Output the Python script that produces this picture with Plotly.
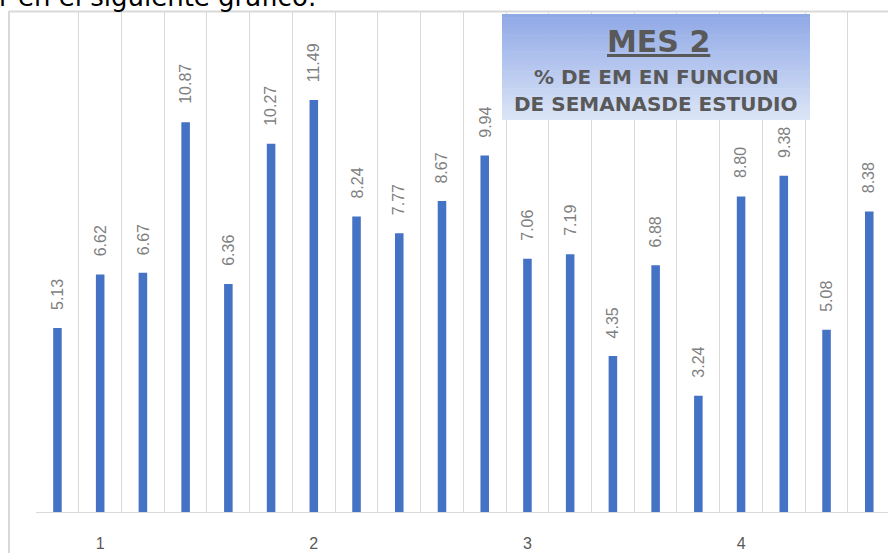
import plotly.graph_objects as go

# ---- data ----
week_index = list(range(20))
values = [5.13, 6.62, 6.67, 10.87, 6.36, 10.27, 11.49, 8.24, 7.77, 8.67,
          9.94, 7.06, 7.19, 4.35, 6.88, 3.24, 8.80, 9.38, 5.08, 8.38]
tick_positions = [1, 6, 11, 16]
tick_labels = ["1", "2", "3", "4"]
value_labels = [f"{v:.2f}" for v in values]

W, H = 888, 553
ML, MR, MT, MB = 36, 0, 12, 41
PW = W - ML - MR
PH = H - MT - MB

def px(x):
    return (x - ML) / PW

def py(y):
    return (H - MB - y) / PH

fig = go.Figure()
fig.add_trace(go.Bar(
    x=week_index, y=values, width=0.2,
    marker=dict(color="#4472c4", line=dict(width=0)),
    hoverinfo="skip",
))

annotations = []
for xi, v, t in zip(week_index, values, value_labels):
    annotations.append(dict(
        x=xi, y=v, xref="x", yref="y", text=t, showarrow=False,
        textangle=-90, yanchor="bottom", xanchor="center", yshift=16,
        font=dict(family="Liberation Sans", size=16, color="#7f7f7f"),
    ))

# cut-off document text at the top
annotations.append(dict(
    x=px(-3), y=py(14), xref="paper", yref="paper",
    text="r en el siguiente gráfico:", showarrow=False,
    xanchor="left", yanchor="bottom",
    font=dict(family="DejaVu Sans", size=26, color="#000000"),
))

# title box gradient
bx0, bx1, by0, by1 = 502, 810, 14, 120
top_c = (143, 168, 230)
bot_c = (220, 229, 247)
shapes = []
N = 50
for k in range(N):
    f = k / (N - 1)
    c = tuple(round(top_c[j] + (bot_c[j] - top_c[j]) * f) for j in range(3))
    ya = by0 + (by1 - by0) * k / N
    yb = by0 + (by1 - by0) * (k + 1) / N + 0.6
    shapes.append(dict(
        type="rect", xref="paper", yref="paper",
        x0=px(bx0), x1=px(bx1), y0=py(min(yb, by1)), y1=py(ya),
        fillcolor="rgb(%d,%d,%d)" % c, line=dict(width=0), layer="above",
    ))

cx = px((bx0 + bx1) / 2)
annotations += [
    dict(x=px(658), y=py(41), xref="paper", yref="paper", text="<b>MES 2</b>",
         showarrow=False, xanchor="center", yanchor="middle",
         font=dict(family="DejaVu Sans", size=30, color="#595959", lineposition="under")),
    dict(x=cx, y=py(77), xref="paper", yref="paper", text="<b>% DE EM EN FUNCION</b>",
         showarrow=False, xanchor="center", yanchor="middle",
         font=dict(family="DejaVu Sans", size=20, color="#595959")),
    dict(x=cx, y=py(103.5), xref="paper", yref="paper", text="<b>DE SEMANASDE ESTUDIO</b>",
         showarrow=False, xanchor="center", yanchor="middle",
         font=dict(family="DejaVu Sans", size=20, color="#595959")),
]

# chart border (left and top)
shapes += [
    dict(type="line", xref="paper", yref="paper", x0=px(9), x1=px(9),
         y0=py(11), y1=py(H + 5), line=dict(color="#d9d9d9", width=2), layer="below"),
    dict(type="line", xref="paper", yref="paper", x0=px(9), x1=px(W + 5),
         y0=py(11.5), y1=py(11.5), line=dict(color="#d9d9d9", width=2), layer="below"),
]

fig.update_layout(
    width=W, height=H,
    margin=dict(l=ML, r=MR, t=MT, b=MB, pad=0),
    paper_bgcolor="white", plot_bgcolor="white",
    showlegend=False,
    annotations=annotations, shapes=shapes,
    xaxis=dict(
        range=[-0.502, (W - 57) / 42.75 + 0.0], fixedrange=True,
        tickmode="array", tickvals=tick_positions, ticktext=tick_labels,
        showgrid=False, zeroline=False,
        showline=True, linecolor="#d9d9d9", linewidth=1,
        ticks="", ticklabelstandoff=17,
        tickfont=dict(family="Liberation Sans", size=16, color="#595959"),
        minor=dict(tickmode="linear", tick0=-0.5, dtick=1, showgrid=True,
                   gridcolor="#d9d9d9", gridwidth=1, ticks=""),
    ),
    yaxis=dict(range=[0, 500 / 35.86], showgrid=False, zeroline=False,
               showticklabels=False, ticks="", showline=False, fixedrange=True),
)

fig.write_html(
    "out.html",
    config={"displayModeBar": False},
    post_script="document.body.style.margin='0';document.body.style.overflow='hidden';",
)
